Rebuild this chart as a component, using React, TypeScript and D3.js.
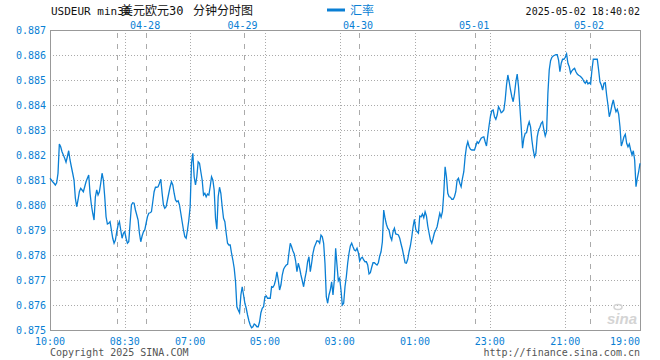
import React from 'react';
import * as d3 from 'd3';

const rateA = [
0.88107,0.88100,0.88093,0.88087,0.88080,0.88089,0.88127,0.88244,0.88233,0.88213,
0.88200,0.88187,0.88171,0.88193,0.88217,0.88180,0.88153,0.88127,0.88100,0.88027,
0.87993,0.88020,0.88053,0.88067,0.88060,0.88053,0.88073,0.88093,0.88107,0.88120,
0.88047,0.88000,0.87967,0.87940,0.88033,0.88060,0.88040,0.88053,0.88087,0.88127,
0.88100,0.88033,0.87953,0.87924,0.87927,0.87933,0.87900,0.87867,0.87847,0.87860,
0.87893,0.87920,0.87933,0.87900,0.87867,0.87887,0.87893,0.87867,0.87847,0.87853,
0.87927,0.88000,0.88009,0.88007,0.87980,0.87960,0.87940,0.87887,0.87853,0.87876,
0.87893,0.87900,0.87927,0.87953,0.87967,0.87969,0.87973,0.88013,0.88053,0.88071,
0.88071,0.88073,0.88087,0.88103,0.88047,0.88000,0.87987,0.87993,0.88020,0.88047,
0.88073,0.88093,0.88080,0.88047,0.88020,0.88013,0.88017,0.88000,0.87967,0.87933,
0.87900,0.87873,0.87867,0.87900,0.87940,0.87993,0.88167,0.88207,0.88113,0.88080,
0.88113,0.88173,0.88167,0.88133,0.88100,0.88040,0.88047,0.88033,0.88044,0.88040,
0.88073,0.88113,0.88100,0.88060,0.87947,0.87903,0.88033,0.88071,0.88047,0.87993,
0.87947,0.87933,0.87887,0.87847,0.87840,0.87840,0.87807,0.87780,0.87747,0.87693,
0.87593,0.87580,0.87569,0.87640,0.87673,0.87640,0.87607,0.87587,0.87560,
];
const rateB = [
0.87537,0.87520,0.87509,0.87513,0.87524,0.87520,0.87513,0.87513,0.87533,0.87569,
0.87587,0.87593,0.87633,0.87636,0.87627,0.87627,0.87627,0.87673,0.87671,0.87680,
0.87700,0.87733,0.87700,0.87660,0.87680,0.87720,0.87743,0.87753,0.87760,0.87763,
0.87807,0.87847,0.87833,0.87816,0.87804,0.87777,0.87733,0.87767,0.87747,0.87720,
0.87697,0.87673,0.87707,0.87733,0.87773,0.87793,0.87733,0.87767,0.87807,0.87831,
0.87844,0.87857,0.87856,0.87847,0.87880,0.87873,0.87847,0.87767,0.87633,0.87607,
0.87640,0.87660,0.87693,0.87640,0.87700,0.87827,0.87760,0.87697,0.87707,0.87660,
0.87600,0.87607,0.87673,0.87713,0.87767,0.87807,0.87836,0.87847,0.87833,0.87820,
0.87817,0.87827,0.87809,0.87776,0.87787,0.87791,0.87780,0.87773,0.87773,0.87760,
0.87724,0.87729,0.87751,0.87769,0.87769,0.87764,0.87760,0.87769,0.87796,0.87813,
0.87853,0.87980,0.87947,0.87923,0.87907,0.87900,0.87873,0.87860,0.87893,0.87907,
0.87884,0.87883,0.87880,0.87867,0.87844,0.87823,0.87796,0.87769,0.87767,0.87783,
0.87813,0.87837,0.87871,0.87913,0.87943,0.87903,0.87893,0.87887,0.87956,0.87953,
0.87964,0.87949,0.87973,0.87956,0.87916,0.87887,0.87860,0.87847,0.87867,0.87889,
0.87900,0.87913,0.87940,0.87967,0.87951,0.87973,0.88047,0.88153,
];
const rateC = [
0.88113,0.88047,0.88033,0.88031,0.88023,0.88023,0.88033,0.88053,0.88100,0.88107,
0.88087,0.88073,0.88107,0.88133,0.88193,0.88233,0.88253,0.88233,0.88223,0.88220,
0.88220,0.88220,0.88236,0.88253,0.88247,0.88257,0.88267,0.88271,0.88273,0.88253,
0.88236,0.88280,0.88320,0.88356,0.88377,0.88380,0.88353,0.88343,0.88360,0.88393,
0.88383,0.88369,0.88373,0.88380,0.88420,0.88480,0.88520,0.88493,0.88460,0.88433,
0.88413,0.88447,0.88493,0.88524,0.88473,0.88393,0.88313,0.88227,0.88267,0.88287,
0.88289,0.88316,0.88333,0.88313,0.88260,0.88220,0.88193,0.88207,0.88273,0.88300,
0.88311,0.88327,0.88333,0.88300,0.88276,0.88293,0.88447,0.88540,0.88577,0.88591,
0.88596,0.88599,0.88601,0.88601,0.88580,0.88533,0.88567,0.88583,0.88583,0.88591,
0.88604,0.88567,0.88553,0.88527,0.88537,0.88543,0.88547,0.88533,0.88524,0.88519,
0.88516,0.88511,0.88505,0.88493,0.88487,0.88497,0.88484,0.88489,0.88484,0.88540,
0.88583,0.88583,0.88583,0.88583,0.88540,0.88493,0.88480,0.88460,0.88487,0.88489,
0.88440,0.88400,0.88353,0.88373,0.88400,0.88420,0.88393,0.88373,0.88383,0.88364,
0.88313,0.88236,0.88253,0.88273,0.88283,0.88247,0.88233,0.88244,0.88220,0.88200,
0.88217,0.88180,0.88073,0.88107,0.88133,0.88167,
];
const rates = [...rateA, ...rateB, ...rateC];

const yTicks = [0.875, 0.876, 0.877, 0.878, 0.879, 0.880, 0.881, 0.882, 0.883, 0.884, 0.885, 0.886, 0.887];
const timeTickIdx = [0, 56, 105, 161, 217, 273.5, 329.5, 386, 442];
const timeTickLabels = ['10:00', '08:30', '07:00', '05:00', '03:00', '01:00', '23:00', '21:00', '19:00'];
const dayBreakIdx = [50, 72, 145, 231.5, 318.5, 404.5];
const dayLabels = ['', '04-28', '04-29', '04-30', '05-01', '05-02'];

const titleCode = 'USDEUR min30';
const titleName = '美元欧元30';
const titleKind = '分钟分时图';
const legendLabel = '汇率';
const stamp = '2025-05-02 18:40:02';
const copyright = 'Copyright 2025 SINA.COM';
const site = 'http://finance.sina.com.cn';

const W = 660, H = 360;
const L = 50, R = 640, T = 30, B = 330;
const BLUE = '#0a7fd4';
const MONO = '"DejaVu Sans Mono", "Liberation Mono", monospace';

export default function App() {
  const x = d3.scaleLinear().domain([0, rates.length - 1]).range([L, R]);
  const y = d3.scaleLinear().domain([0.875, 0.887]).range([B, T]);
  const line = d3.line<number>().x((_, i) => x(i)).y(d => y(d));
  const px = (v: number) => Math.round(v) + 0.5;

  return (
    <svg width={W} height={H} style={{ position: 'absolute', left: 0, top: 0, background: '#fff' }}>
      <rect x={0} y={0} width={W} height={H} fill="#fff" />
      {/* horizontal dotted grid */}
      {yTicks.slice(1, -1).map(v => (
        <line key={'h' + v} x1={L} x2={R} y1={px(y(v))} y2={px(y(v))}
          stroke="#aaa" strokeDasharray="1,2" shapeRendering="crispEdges" />
      ))}
      {/* vertical dotted grid */}
      {timeTickIdx.slice(1, -1).map(i => (
        <line key={'v' + i} x1={px(x(i))} x2={px(x(i))} y1={T} y2={B}
          stroke="#aaa" strokeDasharray="1,2" shapeRendering="crispEdges" />
      ))}
      {/* day breaks dashed */}
      {dayBreakIdx.map(i => (
        <line key={'d' + i} x1={px(x(i))} x2={px(x(i))} y1={T + 3} y2={B}
          stroke="#aaa" strokeDasharray="5,6" shapeRendering="crispEdges" />
      ))}
      {/* frame */}
      <rect x={L + 0.5} y={T + 0.5} width={R - L} height={B - T} fill="none" stroke="#999" shapeRendering="crispEdges" />
      {/* series */}
      <path d={line(rates) || ''} fill="none" stroke={BLUE} strokeWidth={1.3} strokeLinejoin="miter" />
      {/* y labels */}
      {yTicks.map(v => (
        <text key={'yl' + v} x={46} y={y(v) + 4} textAnchor="end" fontFamily={MONO} fontSize={10} fill={BLUE}>
          {v.toFixed(3)}
        </text>
      ))}
      {/* x labels */}
      {timeTickIdx.map((i, k) => (
        <text key={'xl' + k} x={k === timeTickIdx.length - 1 ? x(i) : x(i)} y={345}
          textAnchor={k === timeTickIdx.length - 1 ? 'end' : 'middle'}
          fontFamily={MONO} fontSize={10} fill={BLUE}>
          {timeTickLabels[k]}
        </text>
      ))}
      {/* day labels */}
      {dayBreakIdx.map((i, k) => dayLabels[k] ? (
        <text key={'dl' + k} x={x(i) - 1} y={28.5} textAnchor="middle" fontFamily={MONO} fontSize={10} fill={BLUE}>
          {dayLabels[k]}
        </text>
      ) : null)}
      {/* title */}
      <text x={51} y={15} fontFamily={MONO} fontSize={11} fill="#111">{titleCode}</text>
      <text x={121} y={15} fontFamily={'"DejaVu Sans Mono", "Noto Sans CJK SC", monospace'} fontSize={12} fill="#111">{titleName}</text>
      <text x={193} y={15} fontFamily={'"Noto Sans CJK SC", sans-serif'} fontSize={12} fill="#111">{titleKind}</text>
      {/* legend */}
      <line x1={327} x2={345} y1={10} y2={10} stroke={BLUE} strokeWidth={3} />
      <text x={350} y={15} fontFamily={'"Noto Sans CJK SC", sans-serif'} fontSize={12} fill={BLUE}>{legendLabel}</text>
      <text x={640} y={15} textAnchor="end" fontFamily={MONO} fontSize={10} fill="#111">{stamp}</text>
      {/* watermark */}
      <text x={637} y={324} textAnchor="end" fontFamily="Arial, 'Liberation Sans', sans-serif" fontStyle="italic" fontWeight="bold" fontSize={15} fill="#d4d4d4">sina</text>
      <ellipse cx={618} cy={307} rx={4} ry={2.5} fill="none" stroke="#d4d4d4" strokeWidth={1.5} />
      {/* footer */}
      <text x={50} y={356} fontFamily={MONO} fontSize={10} fill="#555">{copyright}</text>
      <text x={640} y={356} textAnchor="end" fontFamily={MONO} fontSize={10} fill="#555">{site}</text>
    </svg>
  );
}
